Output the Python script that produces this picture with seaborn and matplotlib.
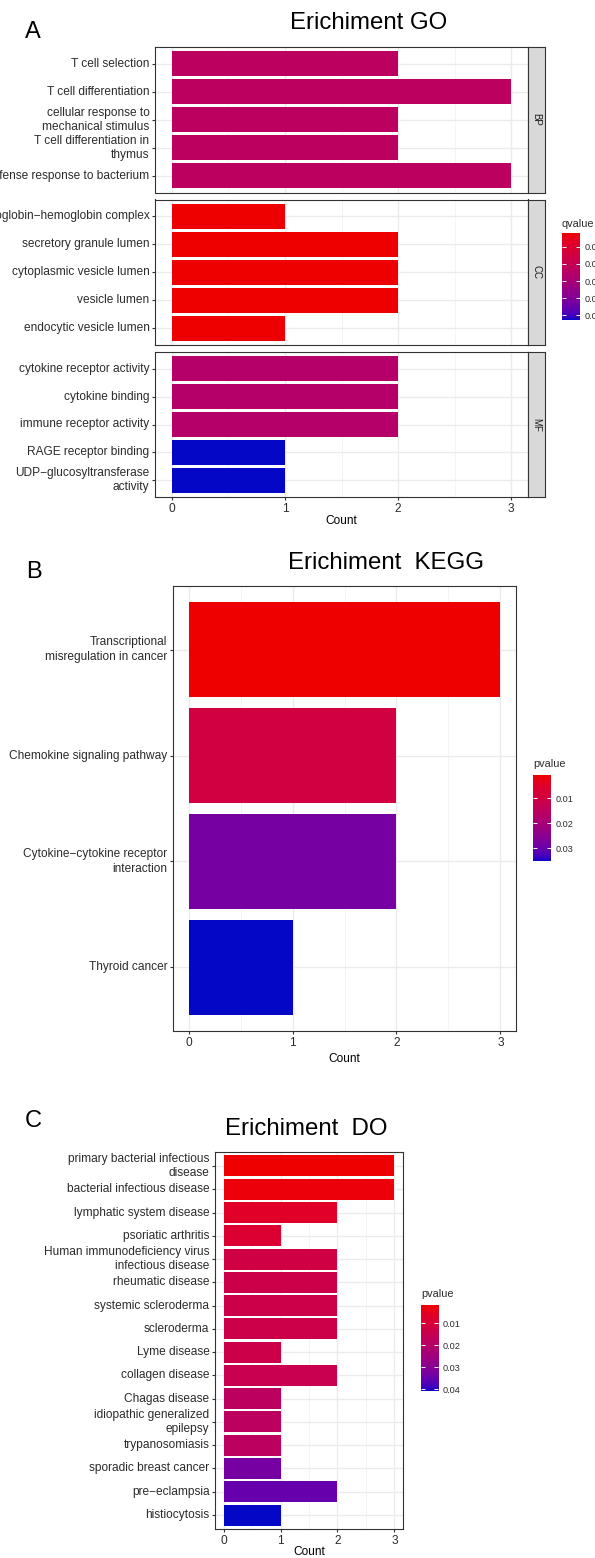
import numpy as np
import pandas as pd
import matplotlib
matplotlib.use("Agg")
import matplotlib.pyplot as plt
from matplotlib.colors import ListedColormap, Normalize
from matplotlib.ticker import MultipleLocator, FixedLocator
import seaborn as sns

# ---------------- data ----------------
count_ticks = [0, 1, 2, 3]

# GO enrichment, one facet per ontology
go_bp_terms = ["T cell selection", "T cell differentiation",
               "cellular response to\nmechanical stimulus",
               "T cell differentiation in\nthymus",
               "defense response to bacterium"]
go_bp_count = [2, 3, 2, 2, 3]
go_bp_qvalue = [0.0233, 0.0233, 0.0233, 0.0233, 0.0233]

go_cc_terms = ["haptoglobin\u2212hemoglobin complex", "secretory granule lumen",
               "cytoplasmic vesicle lumen", "vesicle lumen", "endocytic vesicle lumen"]
go_cc_count = [1, 2, 2, 2, 1]
go_cc_qvalue = [0.0018, 0.0018, 0.0018, 0.0018, 0.0018]

go_mf_terms = ["cytokine receptor activity", "cytokine binding", "immune receptor activity",
               "RAGE receptor binding", "UDP\u2212glucosyltransferase\nactivity"]
go_mf_count = [2, 2, 2, 1, 1]
go_mf_qvalue = [0.0258, 0.0258, 0.0258, 0.0529, 0.0529]

go_facets = ["BP", "CC", "MF"]
go_qvalue_ticks = [0.01, 0.02, 0.03, 0.04, 0.05]

# KEGG enrichment
kegg_terms = ["Transcriptional\nmisregulation in cancer", "Chemokine signaling pathway",
              "Cytokine\u2212cytokine receptor\ninteraction", "Thyroid cancer"]
kegg_count = [3, 2, 2, 1]
kegg_pvalue = [0.0008, 0.0094, 0.0283, 0.0352]
kegg_pvalue_ticks = [0.01, 0.02, 0.03]

# DO enrichment
do_terms = ["primary bacterial infectious\ndisease", "bacterial infectious disease",
            "lymphatic system disease", "psoriatic arthritis",
            "Human immunodeficiency virus\ninfectious disease", "rheumatic disease",
            "systemic scleroderma", "scleroderma", "Lyme disease", "collagen disease",
            "Chagas disease", "idiopathic generalized\nepilepsy", "trypanosomiasis",
            "sporadic breast cancer", "pre\u2212eclampsia", "histiocytosis"]
do_count = [3, 3, 2, 1, 2, 2, 2, 2, 1, 2, 1, 1, 1, 1, 2, 1]
do_pvalue = [0.0018, 0.0026, 0.0065, 0.0084, 0.0124, 0.0135, 0.0135, 0.0135,
             0.0135, 0.0147, 0.0182, 0.0182, 0.0182, 0.0330, 0.0354, 0.0409]
do_pvalue_ticks = [0.01, 0.02, 0.03, 0.04]

# ---------------- styling ----------------
sns.set_theme(style="white")
plt.rcParams["font.family"] = ["Liberation Sans", "DejaVu Sans"]

TXT = "#2B2B2B"
FRAME = "#333333"
GRID = "#EBEBEB"


# red -> blue gradient interpolated in CIELAB
_M = np.array([[0.4124564, 0.3575761, 0.1804375],
               [0.2126729, 0.7151522, 0.0721750],
               [0.0193339, 0.1191920, 0.9503041]])
_WHITE = np.array([0.95047, 1.0, 1.08883])


def srgb_to_lab(rgb):
    rgb = np.asarray(rgb, float)
    lin = np.where(rgb <= 0.04045, rgb / 12.92, ((rgb + 0.055) / 1.055) ** 2.4)
    f = (lin @ _M.T) / _WHITE
    d = 6 / 29
    f = np.where(f > d ** 3, np.cbrt(f), f / (3 * d * d) + 4 / 29)
    return np.stack([116 * f[..., 1] - 16,
                     500 * (f[..., 0] - f[..., 1]),
                     200 * (f[..., 1] - f[..., 2])], -1)


def lab_to_srgb(lab):
    fy = (lab[..., 0] + 16) / 116
    fx = fy + lab[..., 1] / 500
    fz = fy - lab[..., 2] / 200
    d = 6 / 29

    def finv(t):
        return np.where(t > d, t ** 3, 3 * d * d * (t - 4 / 29))

    xyz = np.stack([finv(fx), finv(fy), finv(fz)], -1) * _WHITE
    lin = np.clip(xyz @ np.linalg.inv(_M).T, 0, 1)
    return np.clip(np.where(lin <= 0.0031308, 12.92 * lin,
                            1.055 * lin ** (1 / 2.4) - 0.055), 0, 1)


low = srgb_to_lab(np.array([238, 0, 0]) / 255)
high = srgb_to_lab(np.array([4, 8, 198]) / 255)
tt = np.linspace(0, 1, 256)[:, None]
cmap = ListedColormap(lab_to_srgb(low + (high - low) * tt))

# ---------------- figure ----------------
W, H = 595, 1558
fig = plt.figure(figsize=(W / 100, H / 100), dpi=100)
fig.patch.set_facecolor("white")


def box(x0, y0, x1, y1):
    return [x0 / W, 1 - y1 / H, (x1 - x0) / W, (y1 - y0) / H]


def ftext(x, y, s, **kw):
    fig.text(x / W, 1 - y / H, s, **kw)


def bar_panel(rect, terms, counts, values, norm, show_x=True):
    ax = fig.add_axes(box(*rect))
    df = pd.DataFrame({"term": terms, "Count": counts, "value": values})
    colors = {t: cmap(norm(v)) for t, v in zip(terms, values)}
    sns.barplot(data=df, x="Count", y="term", hue="term", palette=colors,
                saturation=1, legend=False, width=0.9, linewidth=0,
                errorbar=None, orient="h", ax=ax)
    n = len(terms)
    ax.set_ylim(n - 0.4, -0.6)
    ax.set_xlim(-0.15, 3.15)
    ax.xaxis.set_major_locator(FixedLocator(count_ticks))
    ax.xaxis.set_minor_locator(MultipleLocator(0.5))
    ax.set_yticks(range(n))
    ax.set_yticklabels(terms, va="center", linespacing=1.25)
    ax.set_axisbelow(True)
    ax.grid(True, which="major", color=GRID, lw=1.0)
    ax.grid(True, which="minor", axis="x", color="#F2F2F2", lw=0.6)
    ax.set_xlabel("")
    ax.set_ylabel("")
    ax.tick_params(axis="both", which="major", length=2.5, width=0.8,
                   color=FRAME, labelsize=8.6, labelcolor=TXT, pad=1.5,
                   left=True, bottom=show_x, labelbottom=show_x)
    ax.tick_params(axis="both", which="minor", length=0)
    for sp in ax.spines.values():
        sp.set_color(FRAME)
        sp.set_linewidth(0.8)
        sp.set_visible(True)
    return ax


def colorbar(rect, title, norm, ticks, title_y):
    cax = fig.add_axes(box(*rect))
    vmin, vmax = norm.vmin, norm.vmax
    cax.imshow(np.linspace(vmin, vmax, 256)[:, None], cmap=cmap, norm=norm,
               aspect="auto", extent=[0, 1, vmax, vmin], origin="upper",
               interpolation="bilinear")
    cax.set_xticks([])
    cax.set_yticks(ticks)
    cax.set_yticklabels([f"{t:.2f}" for t in ticks])
    cax.yaxis.set_ticks_position("both")
    cax.tick_params(axis="y", direction="in", length=3.2, width=0.7,
                    color="white", labelsize=6.6, labelcolor=TXT, pad=3,
                    left=True, right=True, labelleft=False, labelright=True)
    for sp in cax.spines.values():
        sp.set_visible(False)
    ftext(rect[0], title_y, title, ha="left", va="center", fontsize=7.8,
          color=TXT)
    return cax


# ---- A: GO ----
go_norm = Normalize(min(go_cc_qvalue + go_bp_qvalue + go_mf_qvalue),
                    max(go_cc_qvalue + go_bp_qvalue + go_mf_qvalue))
go_rows = [(go_bp_terms, go_bp_count, go_bp_qvalue, 47, 192.5),
           (go_cc_terms, go_cc_count, go_cc_qvalue, 199.5, 345),
           (go_mf_terms, go_mf_count, go_mf_qvalue, 352, 497)]
for i, (terms, counts, vals, y0, y1) in enumerate(go_rows):
    bar_panel((155, y0, 528, y1), terms, counts, vals, go_norm,
              show_x=(i == len(go_rows) - 1))
    sax = fig.add_axes(box(528, y0, 545, y1))
    sax.set_facecolor("#D9D9D9")
    sax.set_xticks([])
    sax.set_yticks([])
    for sp in sax.spines.values():
        sp.set_color(FRAME)
        sp.set_linewidth(0.8)
        sp.set_visible(True)
    sax.text(0.5, 0.5, go_facets[i], rotation=270, ha="center", va="center",
             fontsize=7, color="#1A1A1A", transform=sax.transAxes)

ftext(33, 32, "A", ha="center", va="center", fontsize=17, color="black")
ftext(369, 23, "Erichiment GO", ha="center", va="center", fontsize=17.3,
      color="black")
ftext(341, 521, "Count", ha="center", va="center", fontsize=8.6, color="black")
colorbar((562, 233, 580, 320), "qvalue", go_norm, go_qvalue_ticks, 224)

# ---- B: KEGG ----
kegg_norm = Normalize(min(kegg_pvalue), max(kegg_pvalue))
bar_panel((173, 586, 516, 1031), kegg_terms, kegg_count, kegg_pvalue, kegg_norm)
ftext(34, 572, "B", ha="center", va="center", fontsize=17, color="black")
ftext(386, 563, "Erichiment  KEGG", ha="center", va="center", fontsize=17.3,
      color="black")
ftext(344.5, 1059, "Count", ha="center", va="center", fontsize=8.6, color="black")
colorbar((533, 775, 551, 861), "pvalue", kegg_norm, kegg_pvalue_ticks, 764)

# ---- C: DO ----
do_norm = Normalize(min(do_pvalue), max(do_pvalue))
bar_panel((215, 1152, 403, 1529), do_terms, do_count, do_pvalue, do_norm)
ftext(33, 1121, "C", ha="center", va="center", fontsize=17, color="black")
ftext(306, 1129, "Erichiment  DO", ha="center", va="center", fontsize=17.3,
      color="black")
ftext(309, 1552, "Count", ha="center", va="center", fontsize=8.6, color="black")
colorbar((421, 1305, 438, 1391), "pvalue", do_norm, do_pvalue_ticks, 1294)

fig.savefig("out.png", dpi=100, facecolor="white")
